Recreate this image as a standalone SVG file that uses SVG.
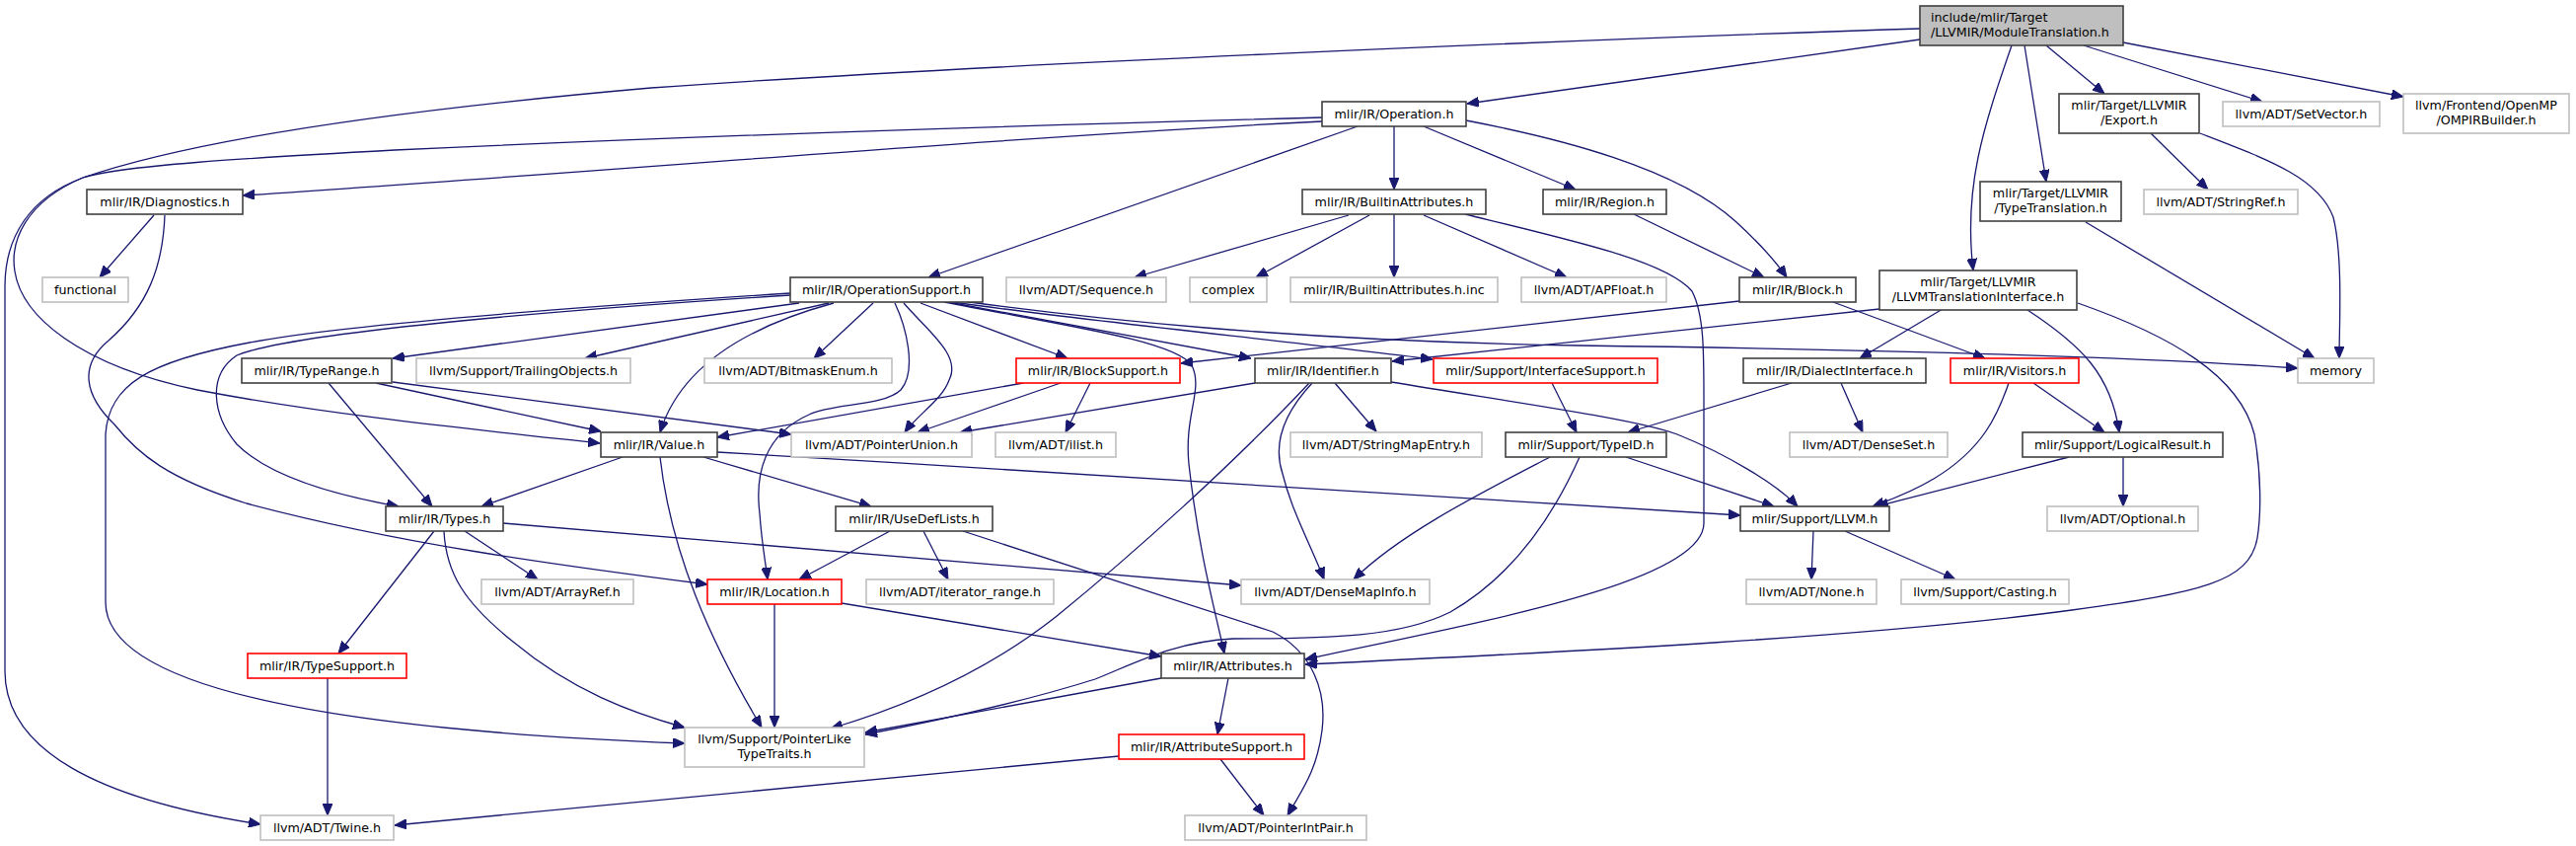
<svg xmlns="http://www.w3.org/2000/svg" width="2611" height="857" viewBox="0 0 2611 857">
<defs>
<marker id="ah" markerUnits="userSpaceOnUse" markerWidth="12" markerHeight="10" viewBox="0 0 12 10" refX="12" refY="5" orient="auto">
<path d="M0,0 L12,5 L0,10 z" fill="#191970" stroke="#191970" stroke-width="1"/>
</marker>
<style>
rect{stroke-width:1.6}
.b{fill:#fff;stroke:#404040}
.g{fill:#fff;stroke:#bfbfbf}
.r{fill:#fff;stroke:#ff0000}
.root{fill:#bfbfbf;stroke:#404040}
text{font-family:"DejaVu Sans","Liberation Sans",sans-serif;font-size:12.7px;fill:#000;text-anchor:middle}
.l{text-anchor:start}
#edges path{fill:none;stroke:#191970;stroke-width:1.3;marker-end:url(#ah)}
</style>
</defs>
<rect width="2611" height="857" fill="#fff"/>
<g id="edges">
<path d="M1946,40 L1487,105"/>
<path d="M1946,29 C1600,40 1000,65 660,89 C420,110 200,140 84,180 C25,205 10,245 15,275 C22,320 80,370 200,395 C330,420 480,435 608,449"/>
<path d="M2039,46 C2010,130 1990,190 2000,274"/>
<path d="M2052,46 L2074,184"/>
<path d="M2074,46 L2133,95"/>
<path d="M2112,46 L2293,103"/>
<path d="M2152,43 L2436,98"/>
<path d="M2180,135 L2238,192"/>
<path d="M2230,135 C2300,162 2350,180 2365,220 C2375,260 2371,330 2371,363"/>
<path d="M2114,225 L2346,363"/>
<path d="M1340,119 C1000,128 700,138 400,152 C250,160 120,168 84,180 C30,200 5,240 5,290 L5,680 C5,760 100,810 264,835"/>
<path d="M1340,123 C1000,140 600,175 246,198"/>
<path d="M1376,128 L941,281"/>
<path d="M1413,128 L1413,192"/>
<path d="M1443,128 L1597,192"/>
<path d="M1486,122 C1580,140 1700,170 1760,225 C1785,248 1800,265 1811,281"/>
<path d="M156,218 L101,281"/>
<path d="M167,218 C165,270 150,310 110,345 C80,370 85,400 116,430 C140,460 170,485 250,510 C400,550 560,572 717,592"/>
<path d="M801,297 C600,310 350,328 253,347 C150,366 110,390 107,440 L107,610 C107,700 350,740 694,753"/>
<path d="M801,299 C600,312 300,335 240,360 C210,380 215,420 240,450 C270,480 330,500 404,513"/>
<path d="M810,307 L398,363"/>
<path d="M840,307 L593,363"/>
<path d="M845,307 C760,330 690,370 669,438"/>
<path d="M885,307 L825,363"/>
<path d="M933,307 L1082,363"/>
<path d="M916,307 C940,335 975,360 962,385 C955,405 930,420 917,438"/>
<path d="M907,307 C918,330 930,375 913,395 C895,412 845,408 820,420 C775,440 765,480 770,520 C772,550 776,570 778,587"/>
<path d="M961,306 L1268,363"/>
<path d="M965,306 C1100,325 1300,345 1452,364"/>
<path d="M975,305 C1100,322 1300,345 1600,350 C1900,354 2150,360 2329,373"/>
<path d="M957,306 C1080,330 1190,345 1208,370 C1220,395 1200,420 1205,470 C1215,560 1232,620 1241,662"/>
<path d="M333,388 L438,513"/>
<path d="M381,388 L609,437"/>
<path d="M398,387 L802,440"/>
<path d="M1037,388 L727,443"/>
<path d="M1075,388 L930,438"/>
<path d="M1105,388 L1080,438"/>
<path d="M1763,305 L1197,368"/>
<path d="M1858,306 L2012,363"/>
<path d="M1656,217 L1788,281"/>
<path d="M1367,218 L1150,281"/>
<path d="M1388,218 L1273,281"/>
<path d="M1413,217 L1413,281"/>
<path d="M1443,218 L1588,281"/>
<path d="M1485,217 C1600,245 1690,265 1715,295 C1728,320 1727,360 1727,420 L1727,530 C1727,590 1500,630 1323,668"/>
<path d="M1177,687 L877,742"/>
<path d="M1245,687 L1234,744"/>
<path d="M853,611 L1177,665"/>
<path d="M785,612 L785,737"/>
<path d="M1134,766 L400,836"/>
<path d="M1237,769 L1281,826"/>
<path d="M902,538 L810,587"/>
<path d="M936,538 L961,587"/>
<path d="M976,538 L1290,640 C1330,660 1345,700 1340,740 C1335,780 1320,800 1305,826"/>
<path d="M669,463 C680,560 720,650 772,737"/>
<path d="M713,463 L883,513"/>
<path d="M727,458 C1100,480 1500,505 1764,522"/>
<path d="M631,463 L488,513"/>
<path d="M471,538 L545,587"/>
<path d="M440,538 L343,662"/>
<path d="M450,538 C452,580 470,610 520,650 C580,700 640,722 694,737"/>
<path d="M510,530 L1258,593"/>
<path d="M332,687 L332,826"/>
<path d="M1272,388 L973,438"/>
<path d="M1353,388 L1395,437"/>
<path d="M1410,387 C1550,410 1660,425 1700,440 C1750,460 1800,490 1822,513"/>
<path d="M1330,388 C1300,420 1290,450 1300,480 C1310,520 1330,555 1342,587"/>
<path d="M1327,388 C1250,470 1150,560 1070,625 C1000,680 920,715 842,738"/>
<path d="M1571,463 C1500,500 1420,540 1372,587"/>
<path d="M1601,463 C1580,510 1540,580 1470,620 C1420,645 1350,647 1250,647 C1190,650 1150,672 1110,688 C1040,710 950,730 877,744"/>
<path d="M1648,463 L1798,513"/>
<path d="M2036,388 C2025,420 2010,455 1960,485 C1940,497 1920,505 1898,513"/>
<path d="M2097,463 L1902,513"/>
<path d="M1816,388 L1650,438"/>
<path d="M1866,388 L1888,438"/>
<path d="M1573,388 L1598,438"/>
<path d="M2061,388 L2133,438"/>
<path d="M2055,314 C2110,350 2140,380 2148,438"/>
<path d="M2106,307 C2200,340 2270,380 2285,440 C2292,480 2292,520 2288,545 C2280,590 2230,600 2100,618 C1900,645 1600,660 1323,673"/>
<path d="M1969,313 L1885,363"/>
<path d="M1905,313 L1411,366"/>
<path d="M2152,463 L2152,513"/>
<path d="M1838,538 L1836,587"/>
<path d="M1870,538 L1982,587"/>
</g>
<g id="n_root"><rect class="root" x="1946" y="6" width="206" height="40"/><text class="l" x="1957" y="22">include/mlir/Target</text><text class="l" x="1957" y="37">/LLVMIR/ModuleTranslation.h</text></g>
<g id="n_operation"><rect class="b" x="1340" y="103" width="146" height="25"/><text x="1413" y="119.5">mlir/IR/Operation.h</text></g>
<g id="n_export"><rect class="b" x="2087" y="95" width="142" height="40"/><text x="2158" y="111">mlir/Target/LLVMIR</text><text x="2158" y="126">/Export.h</text></g>
<g id="n_setvector"><rect class="g" x="2253" y="103" width="159" height="25"/><text x="2332.5" y="119.5">llvm/ADT/SetVector.h</text></g>
<g id="n_ompirbuilder"><rect class="g" x="2436" y="95" width="168" height="40"/><text x="2520" y="111">llvm/Frontend/OpenMP</text><text x="2520" y="126">/OMPIRBuilder.h</text></g>
<g id="n_diagnostics"><rect class="b" x="88" y="192" width="158" height="25"/><text x="167" y="208.5">mlir/IR/Diagnostics.h</text></g>
<g id="n_builtinattributes"><rect class="b" x="1320" y="192" width="186" height="25"/><text x="1413" y="208.5">mlir/IR/BuiltinAttributes.h</text></g>
<g id="n_region"><rect class="b" x="1564" y="192" width="125" height="25"/><text x="1626.5" y="208.5">mlir/IR/Region.h</text></g>
<g id="n_typetranslation"><rect class="b" x="2007" y="184" width="143" height="40"/><text x="2078.5" y="200">mlir/Target/LLVMIR</text><text x="2078.5" y="215">/TypeTranslation.h</text></g>
<g id="n_stringref"><rect class="g" x="2173" y="192" width="156" height="25"/><text x="2251" y="208.5">llvm/ADT/StringRef.h</text></g>
<g id="n_functional"><rect class="g" x="43" y="281" width="87" height="25"/><text x="86.5" y="297.5">functional</text></g>
<g id="n_operationsupport"><rect class="b" x="801" y="281" width="195" height="25"/><text x="898.5" y="297.5">mlir/IR/OperationSupport.h</text></g>
<g id="n_sequence"><rect class="g" x="1020" y="281" width="162" height="25"/><text x="1101" y="297.5">llvm/ADT/Sequence.h</text></g>
<g id="n_complex"><rect class="g" x="1206" y="281" width="78" height="25"/><text x="1245" y="297.5">complex</text></g>
<g id="n_builtinattributesinc"><rect class="g" x="1308" y="281" width="210" height="25"/><text x="1413" y="297.5">mlir/IR/BuiltinAttributes.h.inc</text></g>
<g id="n_apfloat"><rect class="g" x="1542" y="281" width="147" height="25"/><text x="1615.5" y="297.5">llvm/ADT/APFloat.h</text></g>
<g id="n_block"><rect class="b" x="1763" y="281" width="118" height="25"/><text x="1822" y="297.5">mlir/IR/Block.h</text></g>
<g id="n_llvmti"><rect class="b" x="1905" y="274" width="200" height="40"/><text x="2005" y="290">mlir/Target/LLVMIR</text><text x="2005" y="305">/LLVMTranslationInterface.h</text></g>
<g id="n_typerange"><rect class="b" x="245" y="363" width="152" height="25"/><text x="321" y="379.5">mlir/IR/TypeRange.h</text></g>
<g id="n_trailingobjects"><rect class="g" x="422" y="363" width="217" height="25"/><text x="530.5" y="379.5">llvm/Support/TrailingObjects.h</text></g>
<g id="n_bitmaskenum"><rect class="g" x="714" y="363" width="190" height="25"/><text x="809" y="379.5">llvm/ADT/BitmaskEnum.h</text></g>
<g id="n_blocksupport"><rect class="r" x="1030" y="363" width="166" height="25"/><text x="1113" y="379.5">mlir/IR/BlockSupport.h</text></g>
<g id="n_identifier"><rect class="b" x="1272" y="363" width="138" height="25"/><text x="1341" y="379.5">mlir/IR/Identifier.h</text></g>
<g id="n_interfacesupport"><rect class="r" x="1453" y="363" width="227" height="25"/><text x="1566.5" y="379.5">mlir/Support/InterfaceSupport.h</text></g>
<g id="n_dialectinterface"><rect class="b" x="1767" y="363" width="185" height="25"/><text x="1859.5" y="379.5">mlir/IR/DialectInterface.h</text></g>
<g id="n_visitors"><rect class="r" x="1977" y="363" width="130" height="25"/><text x="2042" y="379.5">mlir/IR/Visitors.h</text></g>
<g id="n_memory"><rect class="g" x="2329" y="363" width="77" height="25"/><text x="2367.5" y="379.5">memory</text></g>
<g id="n_value"><rect class="b" x="609" y="438" width="118" height="25"/><text x="668" y="454.5">mlir/IR/Value.h</text></g>
<g id="n_pointerunion"><rect class="g" x="802" y="438" width="183" height="25"/><text x="893.5" y="454.5">llvm/ADT/PointerUnion.h</text></g>
<g id="n_ilist"><rect class="g" x="1009" y="438" width="122" height="25"/><text x="1070" y="454.5">llvm/ADT/ilist.h</text></g>
<g id="n_stringmapentry"><rect class="g" x="1308" y="438" width="194" height="25"/><text x="1405" y="454.5">llvm/ADT/StringMapEntry.h</text></g>
<g id="n_typeid"><rect class="b" x="1526" y="438" width="163" height="25"/><text x="1607.5" y="454.5">mlir/Support/TypeID.h</text></g>
<g id="n_denseset"><rect class="g" x="1814" y="438" width="160" height="25"/><text x="1894" y="454.5">llvm/ADT/DenseSet.h</text></g>
<g id="n_logicalresult"><rect class="b" x="2050" y="438" width="203" height="25"/><text x="2151.5" y="454.5">mlir/Support/LogicalResult.h</text></g>
<g id="n_types"><rect class="b" x="391" y="513" width="119" height="25"/><text x="450.5" y="529.5">mlir/IR/Types.h</text></g>
<g id="n_usedeflists"><rect class="b" x="847" y="513" width="159" height="25"/><text x="926.5" y="529.5">mlir/IR/UseDefLists.h</text></g>
<g id="n_llvm"><rect class="b" x="1764" y="513" width="151" height="25"/><text x="1839.5" y="529.5">mlir/Support/LLVM.h</text></g>
<g id="n_optional"><rect class="g" x="2075" y="513" width="153" height="25"/><text x="2151.5" y="529.5">llvm/ADT/Optional.h</text></g>
<g id="n_arrayref"><rect class="g" x="488" y="587" width="154" height="25"/><text x="565" y="603.5">llvm/ADT/ArrayRef.h</text></g>
<g id="n_location"><rect class="r" x="717" y="587" width="136" height="25"/><text x="785" y="603.5">mlir/IR/Location.h</text></g>
<g id="n_iteratorrange"><rect class="g" x="878" y="587" width="190" height="25"/><text x="973" y="603.5">llvm/ADT/iterator_range.h</text></g>
<g id="n_densemapinfo"><rect class="g" x="1258" y="587" width="191" height="25"/><text x="1353.5" y="603.5">llvm/ADT/DenseMapInfo.h</text></g>
<g id="n_none"><rect class="g" x="1770" y="587" width="132" height="25"/><text x="1836" y="603.5">llvm/ADT/None.h</text></g>
<g id="n_casting"><rect class="g" x="1927" y="587" width="170" height="25"/><text x="2012" y="603.5">llvm/Support/Casting.h</text></g>
<g id="n_typesupport"><rect class="r" x="251" y="662" width="161" height="25"/><text x="331.5" y="678.5">mlir/IR/TypeSupport.h</text></g>
<g id="n_attributes"><rect class="b" x="1177" y="662" width="145" height="25"/><text x="1249.5" y="678.5">mlir/IR/Attributes.h</text></g>
<g id="n_pointerlike"><rect class="g" x="694" y="737" width="182" height="40"/><text x="785" y="753">llvm/Support/PointerLike</text><text x="785" y="768">TypeTraits.h</text></g>
<g id="n_attributesupport"><rect class="r" x="1134" y="744" width="188" height="25"/><text x="1228" y="760.5">mlir/IR/AttributeSupport.h</text></g>
<g id="n_twine"><rect class="g" x="264" y="826" width="135" height="25"/><text x="331.5" y="842.5">llvm/ADT/Twine.h</text></g>
<g id="n_pointerintpair"><rect class="g" x="1201" y="826" width="184" height="25"/><text x="1293" y="842.5">llvm/ADT/PointerIntPair.h</text></g>
</svg>
